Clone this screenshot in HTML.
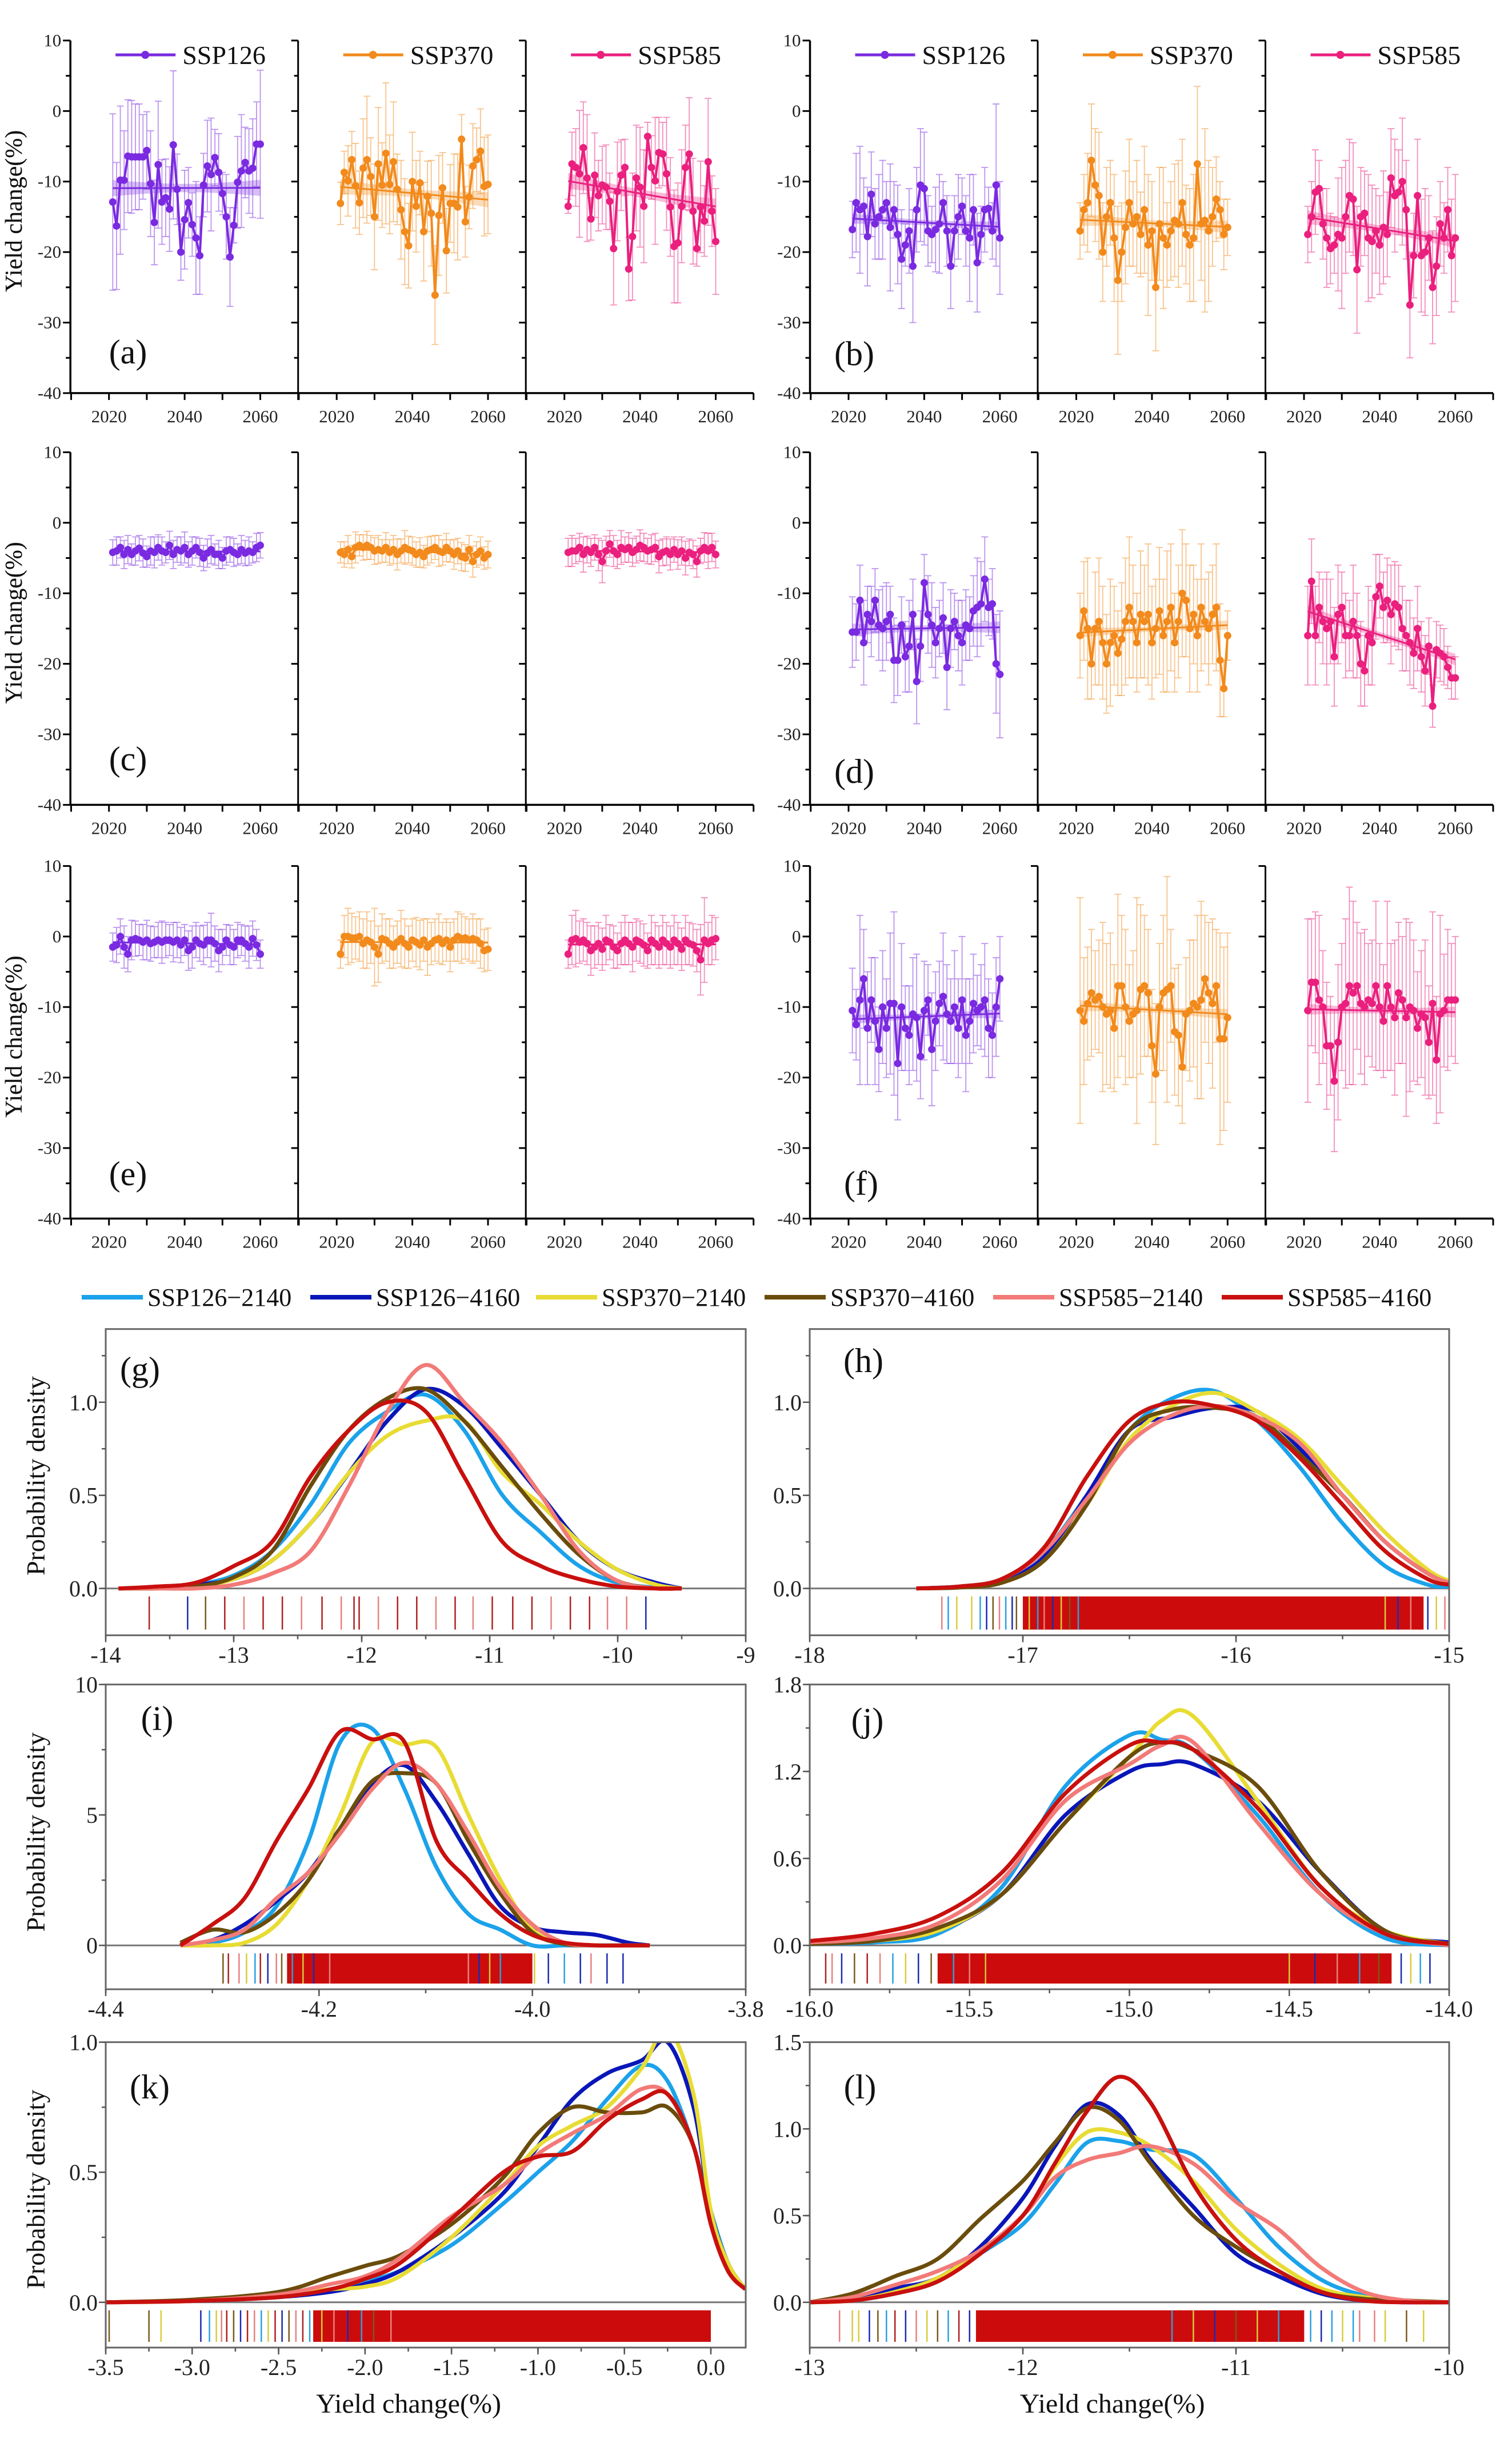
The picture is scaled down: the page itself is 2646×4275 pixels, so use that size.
<!DOCTYPE html>
<html><head><meta charset="utf-8"><title>Yield change figure</title>
<style>
html,body{margin:0;padding:0;background:#fff;}
svg{display:block;font-family:"Liberation Serif",serif;}
svg text{font-family:"Liberation Serif",serif;}
</style></head>
<body>
<svg id="chart" xmlns="http://www.w3.org/2000/svg" width="2646" height="4275" viewBox="0 0 2646 4275" font-family="Liberation Serif, serif">
<rect x="0" y="0" width="2646" height="4275" fill="#fff"/>
</svg>
<script>
// ===== Time-series data (yield change %, 2021-2060) =====
const years = [2021,2022,2023,2024,2025,2026,2027,2028,2029,2030,2031,2032,2033,2034,2035,2036,2037,2038,2039,2040,2041,2042,2043,2044,2045,2046,2047,2048,2049,2050,2051,2052,2053,2054,2055,2056,2057,2058,2059,2060];
const scenarios = ['SSP126','SSP370','SSP585'];
const yTicksTS = [10,0,-10,-20,-30,-40];
const xTicksTS = [2020,2040,2060];

const a126 = [-12.9,-16.3,-9.8,-9.8,-6.4,-6.5,-6.5,-6.5,-6.5,-5.6,-10.3,-15.8,-7.6,-12.9,-12.3,-13.9,-4.8,-11.1,-20.0,-15.4,-13.0,-16.1,-18.0,-20.5,-10.5,-7.8,-9.0,-6.6,-8.7,-11.7,-15.0,-20.7,-16.2,-10.1,-8.5,-7.3,-8.5,-8.1,-4.7,-4.7];
const a370 = [-13.1,-8.7,-9.9,-6.9,-10.6,-13.0,-8.1,-6.9,-9.3,-15.0,-7.5,-10.5,-6.0,-10.4,-7.2,-11.1,-14.0,-17.1,-19.1,-10.0,-13.5,-10.2,-17.1,-12.1,-14.5,-26.1,-14.8,-10.9,-19.8,-13.1,-13.1,-13.6,-4.0,-15.7,-12.2,-7.8,-6.9,-5.7,-10.7,-10.4];
const a585 = [-13.5,-7.5,-8.0,-8.9,-5.2,-9.5,-15.3,-9.1,-12.0,-10.5,-10.8,-12.8,-19.5,-11.4,-9.1,-8.0,-22.4,-17.8,-9.5,-10.8,-13.5,-3.6,-8.0,-9.9,-5.9,-6.1,-8.9,-13.6,-19.2,-18.7,-13.5,-8.0,-6.1,-14.2,-19.5,-13.6,-15.6,-7.2,-14.2,-18.5];
const b126 = [-16.8,-13,-14,-13.5,-17.8,-11.8,-16,-15,-14,-13,-16.5,-14,-17.5,-21,-19,-17,-22,-14,-10.5,-11,-17,-17.5,-16.8,-16,-13,-17,-22,-17,-15,-13.5,-17,-18,-14,-21.5,-17.5,-14,-13.8,-17,-10.5,-18];
const b370 = [-17,-14,-13,-7,-10.5,-12,-20,-15,-13,-18,-24,-20,-16.5,-13,-16,-15,-17.5,-14,-19,-17,-25,-16,-18,-19,-17,-15.5,-16,-13,-17.5,-19,-18,-7.5,-16,-15.5,-17,-15,-12.5,-14,-17.5,-16.5];
const b585 = [-17.5,-15,-11.5,-11,-16,-18,-19.5,-19,-17.5,-18,-15,-12,-12.5,-22.5,-15,-14.5,-18,-18.5,-17,-19,-16.5,-17.5,-9.5,-12,-11.5,-10,-14,-27.5,-20.5,-12,-20.5,-20,-18,-25,-22,-16,-18,-14,-20.5,-18];
const c126 = [-4.2,-4,-3.5,-4.5,-3.8,-4.5,-4,-3.6,-4.3,-4.8,-4,-4.2,-3.5,-4,-4.2,-3.2,-4.5,-3.8,-4,-3.5,-4.5,-4,-3.5,-4.2,-5,-4.3,-3.8,-4.5,-4.5,-5,-4,-3.8,-4.2,-4.5,-3.8,-4.3,-4,-4.2,-3.5,-3.2];
const c370 = [-4.2,-4.5,-3.8,-4.8,-3.5,-3.2,-3.5,-3.2,-3.5,-4,-3.8,-4,-3.5,-4.2,-3.8,-4.5,-4,-3.5,-3.8,-4,-4.5,-4.2,-4.8,-4,-3.8,-3.5,-4,-4.2,-3.5,-4,-4.5,-4,-4.8,-5,-3.8,-5.5,-4.5,-4,-5,-4.5];
const c585 = [-4.2,-4,-4,-3.5,-4.5,-3.8,-4.2,-3.5,-4.5,-5.5,-4,-3,-4,-4.5,-3.5,-3.8,-3.5,-4.2,-3.8,-3.2,-3.5,-4,-3.8,-3.5,-4.8,-4.2,-4,-4.5,-3.8,-4.5,-4,-5,-4.2,-4.5,-5.5,-4,-3.5,-4,-3.5,-4.5];
const d126 = [-15.5,-15.5,-11,-17,-13,-14,-11,-14.5,-15,-14,-13,-19.5,-19.5,-14.5,-19,-17.5,-13,-22.5,-17.5,-8.5,-13,-14.5,-17,-15,-13.5,-20.5,-15,-14,-16,-17,-14.5,-15,-12.5,-12,-11.5,-8,-12,-11.5,-20,-21.5];
const d370 = [-16,-12.5,-15,-20,-15,-14,-17,-20,-17,-16,-18.5,-16.5,-14,-12,-14,-17,-13,-14,-13,-17,-15,-12.5,-16,-14,-12,-17,-14,-10,-11,-15,-13,-16,-12,-14,-15,-13,-12,-19.5,-23.5,-16];
const d585 = [-16,-8.3,-16,-12,-14,-15,-14,-19,-13,-12,-16,-16,-14,-16,-20,-21,-16,-17,-10.5,-9,-12,-11,-13,-11.5,-12,-15,-16,-17,-18.5,-15,-19,-21,-17.5,-26,-18,-18.5,-19,-20.5,-22,-22];
const e126 = [-1.5,-1.2,0,-1.5,-2.5,-0.5,-0.3,-0.5,-0.8,-0.5,-1,-0.8,-0.5,-0.8,-0.5,-0.5,-0.8,-0.5,-1.2,-0.5,-2,-1.5,-0.5,-1,-1.2,-0.5,-0.5,-1,-2,-1.5,-0.5,-1.2,-1.5,-0.5,-0.5,-1,-1.5,-0.3,-1.2,-2.5];
const e370 = [-2.5,0,0,-0.2,-0.2,0,-1,-0.5,-0.8,-1.5,-2.5,-0.3,-0.5,-1,-1.5,-0.8,-0.3,-1,-1.5,-0.5,-0.8,-1.2,-0.5,-1.5,-1,-0.5,-0.3,-1,-0.5,-1.5,-0.5,0,-0.3,-0.2,-0.5,-0.3,-0.5,-1,-2,-1.8];
const e585 = [-2.5,-0.5,-0.3,-0.8,-0.5,-1,-2,-1.5,-1,-1.8,-0.5,-0.8,-1.5,-2,-1,-0.5,-1,-1.5,-0.5,-0.8,-1.2,-2,-0.5,-1,-1.5,-0.5,-1,-1.5,-0.5,-1,-1.8,-0.5,-1,-1.2,-2,-3.3,-0.5,-1,-0.5,-0.3];
const f126 = [-10.5,-12.5,-9,-6,-13,-9,-12,-16,-10,-13,-9.5,-9.5,-18,-10,-13,-14,-11,-11.5,-17,-10.5,-9,-16,-12,-9.5,-8.5,-11,-12,-10,-13,-9,-14,-12,-9.5,-10.5,-10,-9,-13,-14,-10,-6];
const f370 = [-10.5,-12,-9.5,-8,-9,-8.5,-10,-11,-10.5,-13,-7,-7,-10,-12,-11,-10.5,-7.5,-7,-8,-15.5,-19.5,-10,-8,-7.5,-7,-13.5,-14,-18.5,-11,-10.5,-9.5,-10,-9,-6,-8,-9.5,-7,-14.5,-14.5,-11.5];
const f585 = [-10.5,-6.5,-6.5,-9,-10,-15.5,-15.5,-20.5,-15,-10,-9.5,-7,-8,-7,-9.5,-10,-9,-9.5,-7,-10,-12,-7,-10,-11.5,-8,-9,-11.5,-10,-10.5,-13,-11,-11.5,-15,-9.5,-17.5,-11,-10.5,-9,-9,-9];

// error-bar half widths
const a126Err = [12.5,9,10.5,7,8,8,7.5,7.5,6,5.5,7.5,6,9,6,5.5,6,10.5,5,4,7,5,4.5,8,5.5,4.5,6.5,8,4,5.5,3,6,7,2.5,6.5,8,5,6,7,6,10.5];
const a370Err = [3,3,5,4,6,4.5,7,9,5.5,7.5,8,6,10,7,8.5,5,7,7.5,6,7,6.5,4.5,7,5,7.5,7,8.5,5,6,5.5,7,7.5,3.5,5,4.5,6,4.5,6,7,7];
const a585Err = [1,4.5,5.5,9,6.5,9,3,6,5,5.5,6,4,8,7,5,4,4.5,9,7.5,8.5,8,2,4.5,9,5,4.5,8,7,8,8.5,8,6,8,7.5,2.5,6.5,5,9,5,7.5];
const b126Err = [4,7,9,4,7,6,5,6,7,3,9,4,7,7,3,6,8,6,8,8,5,4,6,7,3,5,6,5,6,4,5,9,5,7,4,6,3,4,11.5,8];
const b370Err = [4,5,7,8,8,9,7,7,6,9,10.5,7,8,9,6,8,6,9,10,7,9,8,10,6,7,8,9,9,7,8,9,11,8,13,10,7,6,4,5,4];
const b585Err = [4,5,6,4,5,7,5,4,8,10,8,8,8,9,7,6,9,8,6,7,8,6,7,8,6,9,7,7.5,6,8,8,9,6,8,7,6,5,6,8,9];
const c126Err = [1.8,2,1.5,2,2,1.5,2,1.8,2,1.5,2,2.2,1.8,2,1.5,2,2,1.8,2,2.2,1.8,2,1.5,2,1.8,2,2,1.5,2,1.5,2,1.8,2,1.5,2,1.8,2,1.5,2,1.8];
const c370Err = [1.5,1.8,2,1.6,2.2,1.5,1.8,2,1.7,1.9,2,1.6,2.1,1.8,2,2.2,1.7,2.4,1.9,2,1.8,2.1,1.6,2,1.9,1.7,2.2,1.8,2,1.6,2.1,1.8,2,1.9,2,2.2,1.8,2,1.6,1.9];
const c585Err = [2,2.2,1.8,2,2.5,1.9,2,1.8,2.3,3,2.1,1.9,2.2,2,2.4,1.8,2.1,2,1.9,2.2,2,1.8,2.1,2,2.3,1.9,2,2.2,1.8,2.1,2,2.4,1.9,2,2.2,1.8,2.1,2.5,2,1.9];
const d126Err = [5,4,5,6,4,5,4.5,5,6,5.5,4,6,5,4,5,6.5,5,6,5,4,5.5,6,5,4,5,6,5.5,4,5,6,5,4.5,5,7,6,6,4,5,7,9];
const d370Err = [6,7,10,5,8,9,8,7,9,7,6,8,9,10,8,7,9,8,10,8,7,9,8,10,9,7,8,9,8,9,7,8,9,6,8,7,9,8,4,3.5];
const d585Err = [7,6,7,5,6,8,6,7,7,5,6,5,8,6,6,5,7,6,6,4.5,5,6,7,6,6,6,5,6,5,6,5,5,4,3,4,4,4,3,3,3];
const e126Err = [2,2.5,2.5,3,2.5,2.8,2.5,2.2,2.5,2.8,2.5,2.2,2.5,3,2.5,2.2,2.8,2.5,2.5,2.2,2.8,3,2.5,2.5,2.8,2.5,3.8,2.5,3,2.5,2.2,2.8,2.5,2.5,2.2,2.5,3,2.5,2.2,2];
const e370Err = [2,3,4,3.5,3,3.5,3.5,4,3,5.5,4,3.5,3,3.5,3,3,4,3.5,3,3,3.5,3.5,3,4,3,3,3.5,3,3,3.5,3,3.5,3.5,3,3,3.5,3,3.5,3,3];
const e585Err = [2,3.5,4,3,3,3,3.5,3,3,3,3.5,2.5,3,2.5,3,3.5,3,3.5,3,3,3,2.5,3.5,3,3,3.5,3,3,3.5,3,3,3.5,3,3,3,5,6,3,3.5,3];
const f126Err = [6,5,12,7,8,6,9,6,8,7,10,13,8,9,6,7,8,9,6,7,5,8,7,6,9,7,6,8,7,9,8,6,7,5,6,8,7,6,7,6];
const f370Err = [16,9,8,9,7,8,12,10,11,9,13,10,11,8,9,16,12,10,9,8,10,9,11,16,8,9,10,8,8,10,9,13,14,9,10,12,8,15,13,12];
const f585Err = [13,9,10,12,8,9,7,10,11,9,12,14,13,9,10,11,8,9,12,9,8,12,9,11,10,9,14,12,10,8,9,11,8,13,9,14,8,10,8,9];

// ===== Density data =====
const densSeries = ['SSP126\u22122140','SSP126\u22124160','SSP370\u22122140','SSP370\u22124160','SSP585\u22122140','SSP585\u22124160'];
const gX = [-13.9,-13.6,-13.3,-13.0,-12.7,-12.4,-12.1,-11.8,-11.5,-11.2,-10.9,-10.6,-10.3,-10.0,-9.7,-9.5];
const g1 = [0,0.005,0.02,0.07,0.2,0.45,0.78,0.95,1.04,0.85,0.5,0.3,0.12,0.03,0.005,0];
const g2 = [0,0.005,0.02,0.05,0.15,0.35,0.62,0.9,1.07,0.98,0.75,0.5,0.25,0.1,0.03,0];
const g3 = [0,0,0.01,0.05,0.15,0.35,0.62,0.82,0.9,0.9,0.62,0.45,0.25,0.1,0.02,0];
const g4 = [0,0,0.01,0.06,0.2,0.55,0.85,1.02,1.07,0.9,0.65,0.4,0.18,0.04,0,0];
const g5 = [0,0,0,0.02,0.08,0.2,0.55,0.95,1.2,1.0,0.78,0.5,0.2,0.04,0,0];
const g6 = [0,0.01,0.03,0.12,0.25,0.6,0.85,1.0,0.95,0.6,0.25,0.12,0.05,0.01,0,0];
const hX = [-17.5,-17.3,-17.1,-16.9,-16.7,-16.5,-16.3,-16.1,-15.9,-15.7,-15.5,-15.3,-15.1,-15.0];
const h1 = [0,0.01,0.05,0.2,0.5,0.85,1.02,1.06,0.9,0.65,0.35,0.12,0.02,0.01];
const h2 = [0,0.01,0.04,0.17,0.5,0.85,0.92,0.97,0.95,0.75,0.5,0.25,0.08,0.04];
const h3 = [0,0.005,0.03,0.15,0.45,0.8,0.98,1.05,0.95,0.8,0.55,0.3,0.1,0.04];
const h4 = [0,0.005,0.03,0.15,0.45,0.85,0.96,0.97,0.92,0.72,0.5,0.25,0.08,0.03];
const h5 = [0,0.01,0.05,0.2,0.48,0.78,0.93,0.98,0.92,0.78,0.5,0.25,0.08,0.03];
const h6 = [0,0.01,0.05,0.22,0.6,0.9,1.0,0.98,0.9,0.7,0.45,0.2,0.05,0.02];
const iX = [-4.33,-4.30,-4.27,-4.24,-4.21,-4.18,-4.15,-4.12,-4.09,-4.06,-4.03,-4.00,-3.97,-3.94,-3.91,-3.89];
const i1 = [0,0.1,0.5,1.5,4.0,7.8,8.3,6.0,3.0,1.2,0.6,0,0,0,0,0];
const i2 = [0,0.2,0.8,1.7,2.8,4.5,6.2,6.9,5.5,3.5,1.5,0.7,0.5,0.4,0.1,0];
const i3 = [0,0,0.1,0.8,2.5,5,7.8,7.7,7.6,5,2.5,0.6,0.1,0,0,0];
const i4 = [0.1,0.6,0.5,1.2,2.5,4.5,6.3,6.6,6.2,4,2.0,0.5,0.05,0,0,0];
const i5 = [0,0.2,0.6,1.8,2.8,4.3,6.0,7.0,6.2,4.3,2.2,0.8,0.1,0,0,0];
const i6 = [0,0.8,1.8,4.0,6.0,8.2,7.9,7.8,4.0,2.5,1.2,0.4,0.1,0,0,0];
const jX = [-16,-15.8,-15.6,-15.4,-15.2,-15.0,-14.9,-14.8,-14.6,-14.4,-14.2,-14.0];
const j1 = [0.01,0.02,0.08,0.4,1.1,1.45,1.42,1.35,0.9,0.35,0.05,0];
const j2 = [0.01,0.03,0.1,0.35,0.9,1.2,1.25,1.25,1.0,0.5,0.1,0.02];
const j3 = [0.01,0.03,0.1,0.35,0.85,1.3,1.55,1.58,1.0,0.4,0.1,0.01];
const j4 = [0.01,0.03,0.12,0.35,0.85,1.3,1.4,1.35,1.1,0.5,0.1,0.01];
const j5 = [0.02,0.05,0.15,0.45,1.0,1.25,1.38,1.4,0.85,0.35,0.08,0];
const j6 = [0.03,0.08,0.2,0.5,1.05,1.38,1.4,1.35,0.95,0.4,0.08,0.01];
const kX = [-3.5,-3.0,-2.5,-2.2,-2.0,-1.8,-1.5,-1.2,-1.0,-0.8,-0.6,-0.4,-0.25,-0.1,0.0,0.1,0.2];
const k1 = [0,0.005,0.02,0.05,0.08,0.12,0.22,0.38,0.5,0.62,0.78,0.91,0.85,0.6,0.35,0.15,0.05];
const k2 = [0,0.005,0.02,0.04,0.07,0.12,0.25,0.42,0.6,0.78,0.88,0.93,1.0,0.75,0.35,0.15,0.05];
const k3 = [0,0.005,0.03,0.05,0.06,0.1,0.25,0.45,0.6,0.68,0.75,0.9,1.05,0.8,0.35,0.15,0.05];
const k4 = [0,0.01,0.04,0.1,0.14,0.18,0.3,0.48,0.65,0.75,0.73,0.73,0.75,0.6,0.3,0.12,0.05];
const k5 = [0,0.005,0.03,0.07,0.1,0.17,0.33,0.45,0.57,0.65,0.72,0.82,0.8,0.6,0.3,0.12,0.05];
const k6 = [0,0.005,0.02,0.05,0.09,0.15,0.32,0.5,0.56,0.58,0.7,0.78,0.8,0.6,0.3,0.12,0.05];
const lX = [-13,-12.8,-12.6,-12.4,-12.2,-12.0,-11.85,-11.7,-11.55,-11.4,-11.2,-11.0,-10.8,-10.6,-10.4,-10.2,-10.0];
const l1 = [0,0.01,0.05,0.12,0.28,0.45,0.68,0.92,0.93,0.88,0.85,0.6,0.32,0.13,0.04,0.01,0];
const l2 = [0,0.02,0.08,0.14,0.32,0.6,0.9,1.14,1.08,0.82,0.55,0.28,0.15,0.05,0.01,0,0];
const l3 = [0,0.01,0.06,0.14,0.3,0.5,0.78,0.98,0.98,0.9,0.7,0.42,0.22,0.08,0.03,0.01,0];
const l4 = [0,0.05,0.15,0.25,0.48,0.7,0.92,1.12,1.05,0.8,0.5,0.32,0.18,0.06,0.02,0.01,0];
const l5 = [0,0.03,0.1,0.18,0.3,0.5,0.72,0.82,0.86,0.9,0.8,0.58,0.42,0.2,0.06,0.01,0];
const l6 = [0,0.01,0.05,0.12,0.28,0.5,0.8,1.1,1.3,1.15,0.68,0.36,0.18,0.06,0.01,0,0];

// rug data: tick values, series index per tick, and dense range
const gRug = [-13.66,-13.36,-13.22,-13.07,-12.92,-12.77,-12.62,-12.47,-12.31,-12.16,-12.06,-12.02,-11.87,-11.72,-11.57,-11.42,-11.27,-11.13,-10.98,-10.82,-10.67,-10.52,-10.37,-10.22,-10.08,-9.93,-9.78];
const gRugS = [5,1,3,5,4,5,5,4,5,4,5,5,4,5,5,4,5,4,5,5,5,4,5,5,4,4,1];
const hRug = [-17.38,-17.35,-17.31,-17.24,-17.2,-17.17,-17.14,-17.11,-17.08,-17.05,-17.03,-16.97,-16.93,-16.9,-16.86,-16.82,-16.78,-16.74,-15.3,-15.24,-15.18,-15.1,-15.06,-15.02];
const hRugS = [4,0,2,2,0,1,3,4,0,1,3,2,0,4,1,2,3,0,2,1,4,1,2,4];
const hDense = [-17.0,-15.12];
const iRug = [-4.29,-4.285,-4.275,-4.268,-4.26,-4.255,-4.248,-4.24,-4.235,-4.225,-4.215,-4.205,-4.19,-4.06,-4.05,-4.04,-4.03,-3.998,-3.985,-3.97,-3.955,-3.945,-3.93,-3.915];
const iRugS = [3,5,4,2,0,5,1,4,3,0,2,1,4,4,1,2,0,2,1,0,1,4,1,1];
const iDense = [-4.23,-4.0];
const jRug = [-15.95,-15.93,-15.9,-15.86,-15.82,-15.78,-15.74,-15.7,-15.66,-15.62,-15.55,-15.5,-15.45,-14.5,-14.42,-14.35,-14.28,-14.22,-14.15,-14.12,-14.09,-14.06];
const jRugS = [5,4,1,3,5,4,0,2,1,3,0,4,2,2,1,4,0,3,1,2,0,1];
const jDense = [-15.6,-14.18];
const kRug = [-3.48,-3.25,-3.18,-2.95,-2.9,-2.86,-2.83,-2.8,-2.76,-2.72,-2.68,-2.64,-2.6,-2.56,-2.52,-2.48,-2.44,-2.4,-2.36,-2.32,-2.25,-2.18,-2.1,-2.02,-1.95,-1.85];
const kRugS = [3,3,2,1,0,2,4,5,3,1,5,4,0,2,5,1,3,4,5,0,2,4,1,0,3,4];
const kDense = [-2.3,0.0];
const lRug = [-12.86,-12.8,-12.77,-12.72,-12.68,-12.64,-12.6,-12.55,-12.5,-12.45,-12.4,-12.35,-12.3,-12.25,-11.3,-11.2,-11.1,-11.0,-10.9,-10.8,-10.65,-10.6,-10.55,-10.5,-10.45,-10.42,-10.35,-10.3,-10.2,-10.12];
const lRugS = [4,2,2,1,3,0,5,1,4,2,3,0,5,1,0,2,1,3,2,0,0,1,0,2,0,4,4,2,3,2];
const lDense = [-12.22,-10.68];

// ===== Drawing helpers =====
const NS = 'http://www.w3.org/2000/svg';
const svg = document.getElementById('chart');
const FONT = '"Liberation Serif", serif';
function mk(tag, attrs, parent){
  const e = document.createElementNS(NS, tag);
  for (const k in attrs) e.setAttribute(k, attrs[k]);
  (parent || svg).appendChild(e);
  return e;
}
function txt(s, attrs, parent){
  const e = mk('text', attrs, parent);
  e.setAttribute('font-family', FONT);
  e.textContent = s;
  return e;
}
function smoothPath(pts){
  let d = 'M' + pts[0][0].toFixed(1) + ',' + pts[0][1].toFixed(1);
  for (let i = 0; i < pts.length - 1; i++){
    const p0 = pts[Math.max(i-1,0)], p1 = pts[i], p2 = pts[i+1], p3 = pts[Math.min(i+2, pts.length-1)];
    const c1x = p1[0] + (p2[0]-p0[0])/6, c1y = p1[1] + (p2[1]-p0[1])/6;
    const c2x = p2[0] - (p3[0]-p1[0])/6, c2y = p2[1] - (p3[1]-p1[1])/6;
    d += ' C' + c1x.toFixed(1) + ',' + c1y.toFixed(1) + ' ' + c2x.toFixed(1) + ',' + c2y.toFixed(1) + ' ' + p2[0].toFixed(1) + ',' + p2[1].toFixed(1);
  }
  return d;
}

// ===== Time-series panels =====
const tsColors = ['#7a2ae0','#f28a1c','#ea1f7e'];
const tsGroupsX = [123.2, 1417.5];
const tsRowsTop = [70.9, 791.4, 1515.4];
const subW = 398.5;
const unit10 = 123.4;
const panelData = [
  {lab:'(a)', g:0, r:0, s:[a126,a370,a585], e:[a126Err,a370Err,a585Err], lx:224, ly:616, legend:true},
  {lab:'(b)', g:1, r:0, s:[b126,b370,b585], e:[b126Err,b370Err,b585Err], lx:1495, ly:619, legend:true},
  {lab:'(c)', g:0, r:1, s:[c126,c370,c585], e:[c126Err,c370Err,c585Err], lx:224, ly:1328, legend:false},
  {lab:'(d)', g:1, r:1, s:[d126,d370,d585], e:[d126Err,d370Err,d585Err], lx:1495, ly:1350, legend:false},
  {lab:'(e)', g:0, r:2, s:[e126,e370,e585], e:[e126Err,e370Err,e585Err], lx:224, ly:2054, legend:false},
  {lab:'(f)', g:1, r:2, s:[f126,f370,f585], e:[f126Err,f370Err,f585Err], lx:1507, ly:2071, legend:false}
];

panelData.forEach(function(P){
  const x0 = tsGroupsX[P.g], top = tsRowsTop[P.r];
  const yOf = function(v){ return top + (10 - v) * unit10 / 10; };
  const bottom = yOf(-40);
  const grp = mk('g', {});
  
  
  const la = mk('line', {x1:x0, y1:top, x2:x0, y2:bottom, stroke:'#000', 'stroke-width':3.5}, grp);
  
  
  for (let v = 10; v >= -40; v -= 5){
    const major = (v % 10 === 0);
    mk('line', {x1:x0 - (major?13:8), y1:yOf(v), x2:x0, y2:yOf(v), stroke:'#000', 'stroke-width':3}, grp);
  }
  yTicksTS.forEach(function(v){
    const t = txt(String(v), {x:x0 - 16, y:yOf(v) + 10, 'text-anchor':'end', 'font-size':31, fill:'#222'}, grp);
    
    
  });
  const ba = mk('line', {x1:x0, y1:bottom, x2:x0 + 3*subW, y2:bottom, stroke:'#000', 'stroke-width':3.5}, grp);
  
  
  const midY = (top + bottom) / 2;
  const yt = txt('Yield change(%)', {x:0, y:0, transform:'translate(38,' + (midY - 10) + ') rotate(-90)', 'text-anchor':'middle', 'font-size':42, fill:'#111'}, grp);
  
  

  for (let si = 0; si < 3; si++){
    const sx = x0 + si*subW;
    const xOf = function(yr){ return sx + 67.5 + (yr - 2020) * 6.62; };
    if (si > 0){
      const dv = mk('line', {x1:sx, y1:top, x2:sx, y2:bottom, stroke:'#000', 'stroke-width':3}, grp);
      
      
      for (let v = 10; v >= -40; v -= 5){
        const major = (v % 10 === 0);
        mk('line', {x1:sx - (major?12:7), y1:yOf(v), x2:sx, y2:yOf(v), stroke:'#000', 'stroke-width':3}, grp);
      }
    }
    for (let yr = 2010; yr <= 2070; yr += 10){
      mk('line', {x1:xOf(yr), y1:bottom, x2:xOf(yr), y2:bottom + 12, stroke:'#000', 'stroke-width':3}, grp);
    }
    xTicksTS.forEach(function(yr){
      const t = txt(String(yr), {x:xOf(yr), y:bottom + 51, 'text-anchor':'middle', 'font-size':31, fill:'#222'}, grp);
      
      
    });
    const vals = P.s[si], errs = P.e[si], col = tsColors[si];
    const sg = mk('g', {}, grp);
    
    
    const n = years.length;
    let mx = 0, my = 0;
    for (let i = 0; i < n; i++){ mx += years[i]; my += vals[i]; }
    mx /= n; my /= n;
    let sxx = 0, sxy = 0;
    for (let i = 0; i < n; i++){ sxx += (years[i]-mx)*(years[i]-mx); sxy += (years[i]-mx)*(vals[i]-my); }
    const slope = sxy / sxx, icpt = my - slope*mx;
    let sse = 0;
    for (let i = 0; i < n; i++){ const r = vals[i] - (icpt + slope*years[i]); sse += r*r; }
    const sres = Math.sqrt(sse / (n - 2));
    const up = [], lo = [];
    for (let i = 0; i < n; i++){
      const yh = icpt + slope*years[i];
      const ci = 0.8 * sres * Math.sqrt(1/n + (years[i]-mx)*(years[i]-mx)/sxx);
      up.push(xOf(years[i]).toFixed(1) + ',' + yOf(yh + ci).toFixed(1));
      lo.unshift(xOf(years[i]).toFixed(1) + ',' + yOf(yh - ci).toFixed(1));
    }
    const band = mk('polygon', {points: up.concat(lo).join(' '), fill:col, 'fill-opacity':0.3}, sg);
    
    
    for (let i = 0; i < n; i++){
      const x = xOf(years[i]);
      const eb = mk('path', {d:'M' + x + ',' + yOf(vals[i]+errs[i]) + 'V' + yOf(vals[i]-errs[i]) + 'M' + (x-6) + ',' + yOf(vals[i]+errs[i]) + 'h12M' + (x-6) + ',' + yOf(vals[i]-errs[i]) + 'h12', stroke:col, 'stroke-opacity':0.5, 'stroke-width':1.8, fill:'none'}, sg);
      
      
    }
    const tl = mk('line', {x1:xOf(years[0]), y1:yOf(icpt + slope*years[0]), x2:xOf(years[n-1]), y2:yOf(icpt + slope*years[n-1]), stroke:col, 'stroke-width':3}, sg);
    
    
    const pts = vals.map(function(v, i){ return xOf(years[i]).toFixed(1) + ',' + yOf(v).toFixed(1); });
    const pl = mk('polyline', {points: pts.join(' '), fill:'none', stroke:col, 'stroke-width':4}, sg);
    
    
    for (let i = 0; i < n; i++){
      const c = mk('circle', {cx:xOf(years[i]), cy:yOf(vals[i]), r:6.5, fill:col}, sg);
      
      
    }
    if (P.legend){
      const lg = mk('g', {}, grp);
      
      
      mk('line', {x1:sx + 79, y1:96, x2:sx + 184, y2:96, stroke:col, 'stroke-width':5}, lg);
      mk('circle', {cx:sx + 131, cy:96, r:7, fill:col}, lg);
      txt(scenarios[si], {x:sx + 196, y:112, 'font-size':46, fill:'#111'}, lg);
    }
  }
  const pl = txt(P.lab, {x:P.lx, y:P.ly + 20, 'text-anchor':'middle', 'font-size':60, fill:'#111'}, grp);
  
  
});

// ===== Bottom legend =====
const densColors = ['#1ba2ea','#0a16b8','#e8dc34','#6a4c0c','#f27a78','#c8100e'];
const legX = [143, 543, 938, 1338, 1738, 2138];
densSeries.forEach(function(name, i){
  const lg = mk('g', {});
  
  
  mk('line', {x1:legX[i], y1:2270, x2:legX[i] + 107, y2:2270, stroke:densColors[i], 'stroke-width':8}, lg);
  txt(name, {x:legX[i] + 115, y:2285, 'font-size':44, fill:'#111'}, lg);
});

// ===== Density panels =====
const densPanels = [
  {lab:'(g)', L:185, R:1305, T:2325.7, B:2861.6, Z:2779.6, xmin:-14, xmax:-9, ymaxAtTop:1.393, X:gX, Y:[g1,g2,g3,g4,g5,g6], yt:[0,0.5,1.0], ytl:['0.0','0.5','1.0'], ym:0.25, xt:[-14,-13,-12,-11,-10,-9], xtl:['-14','-13','-12','-11','-10','-9'], xm:0.5, rug:gRug, rugS:gRugS, dense:null, lx:245, ly:2396, title:false},
  {lab:'(h)', L:1417, R:2536, T:2325.7, B:2861.6, Z:2779.6, xmin:-18, xmax:-15, ymaxAtTop:1.393, X:hX, Y:[h1,h2,h3,h4,h5,h6], yt:[0,0.5,1.0], ytl:['0.0','0.5','1.0'], ym:0.25, xt:[-18,-17,-16,-15], xtl:['-18','-17','-16','-15'], xm:0.5, rug:hRug, rugS:hRugS, dense:hDense, lx:1511, ly:2381, title:false},
  {lab:'(i)', L:185, R:1305, T:2947.7, B:3481, Z:3404.2, xmin:-4.4, xmax:-3.8, ymaxAtTop:10, X:iX, Y:[i1,i2,i3,i4,i5,i6], yt:[0,5,10], ytl:['0','5','10'], ym:2.5, xt:[-4.4,-4.2,-4.0,-3.8], xtl:['-4.4','-4.2','-4.0','-3.8'], xm:0.1, rug:iRug, rugS:iRugS, dense:iDense, lx:275, ly:3007, title:false},
  {lab:'(j)', L:1417, R:2536, T:2947.7, B:3481, Z:3404.2, xmin:-16, xmax:-14, ymaxAtTop:1.8, X:jX, Y:[j1,j2,j3,j4,j5,j6], yt:[0,0.6,1.2,1.8], ytl:['0.0','0.6','1.2','1.8'], ym:0.3, xt:[-16,-15.5,-15,-14.5,-14], xtl:['-16.0','-15.5','-15.0','-14.5','-14.0'], xm:0.25, rug:jRug, rugS:jRugS, dense:jDense, lx:1518, ly:3010, title:false},
  {lab:'(k)', L:185, R:1305, T:3573.6, B:4108, Z:4028.8, xmin:-3.5, xmax:0.2017, ymaxAtTop:1.0, X:kX, Y:[k1,k2,k3,k4,k5,k6], yt:[0,0.5,1.0], ytl:['0.0','0.5','1.0'], ym:0.25, xt:[-3.5,-3,-2.5,-2,-1.5,-1,-0.5,0], xtl:['-3.5','-3.0','-2.5','-2.0','-1.5','-1.0','-0.5','0.0'], xm:0.25, rug:kRug, rugS:kRugS, dense:kDense, lx:262, ly:3652, title:true},
  {lab:'(l)', L:1417, R:2536, T:3573.6, B:4108, Z:4028.8, xmin:-13, xmax:-10, ymaxAtTop:1.5, X:lX, Y:[l1,l2,l3,l4,l5,l6], yt:[0,0.5,1.0,1.5], ytl:['0.0','0.5','1.0','1.5'], ym:0.25, xt:[-13,-12,-11,-10], xtl:['-13','-12','-11','-10'], xm:0.5, rug:lRug, rugS:lRugS, dense:lDense, lx:1505, ly:3652, title:true}
];
const rugColors = ['#2aa0e0','#1a2ab0','#d8cc3a','#7a5a1a','#e88080','#b02020'];

densPanels.forEach(function(P){
  const grp = mk('g', {});
  
  
  const xOf = function(v){ return P.L + (v - P.xmin) / (P.xmax - P.xmin) * (P.R - P.L); };
  const yOf = function(v){ return P.Z - v / P.ymaxAtTop * (P.Z - P.T); };
  const cp = 'clip' + P.lab.replace(/[()]/g,'');
  const cpe = mk('clipPath', {id:cp}, grp);
  mk('rect', {x:P.L, y:P.T, width:P.R - P.L, height:P.B - P.T}, cpe);
  const rg = mk('g', {'clip-path':'url(#' + cp + ')'}, grp);
  
  
  const rTop = P.Z + 14, rBot = P.B - 10;
  if (P.dense){
    const dr = mk('rect', {x:xOf(P.dense[0]), y:rTop, width:xOf(P.dense[1]) - xOf(P.dense[0]), height:rBot - rTop, fill:'#cc0c0c'}, rg);
    
    
  }
  P.rug.forEach(function(v, i){
    mk('line', {x1:xOf(v), y1:rTop, x2:xOf(v), y2:rBot, stroke:rugColors[P.rugS[i]], 'stroke-width':2.5}, rg);
  });
  const zl = mk('line', {x1:P.L, y1:P.Z, x2:P.R, y2:P.Z, stroke:'#777', 'stroke-width':3}, grp);
  
  
  const cg = mk('g', {'clip-path':'url(#' + cp + ')'}, grp);
  P.Y.forEach(function(ys, si){
    const pts = ys.map(function(v, i){ return [xOf(P.X[i]), yOf(v)]; });
    const c = mk('path', {d:smoothPath(pts), fill:'none', stroke:densColors[si], 'stroke-width':7, 'stroke-linejoin':'round'}, cg);
    
    
  });
  const fr = mk('rect', {x:P.L, y:P.T, width:P.R - P.L, height:P.B - P.T, fill:'none', stroke:'#666', 'stroke-width':3}, grp);
  
  
  for (let v = 0; v <= P.ymaxAtTop + 1e-6; v += P.ym){
    mk('line', {x1:P.L - 7, y1:yOf(v), x2:P.L, y2:yOf(v), stroke:'#555', 'stroke-width':2.5}, grp);
  }
  P.yt.forEach(function(v, i){
    mk('line', {x1:P.L - 12, y1:yOf(v), x2:P.L, y2:yOf(v), stroke:'#555', 'stroke-width':2.5}, grp);
    const t = txt(P.ytl[i], {x:P.L - 14, y:yOf(v) + 14, 'text-anchor':'end', 'font-size':40, fill:'#222'}, grp);
    
    
  });
  for (let v = P.xt[0]; v <= P.xmax + 1e-6; v += P.xm){
    mk('line', {x1:xOf(v), y1:P.B, x2:xOf(v), y2:P.B + 7, stroke:'#555', 'stroke-width':2.5}, grp);
  }
  P.xt.forEach(function(v, i){
    mk('line', {x1:xOf(v), y1:P.B, x2:xOf(v), y2:P.B + 12, stroke:'#555', 'stroke-width':2.5}, grp);
    const t = txt(P.xtl[i], {x:xOf(v), y:P.B + 48, 'text-anchor':'middle', 'font-size':40, fill:'#222'}, grp);
    
    
  });
  if (P.L < 300){
    const yt = txt('Probability density', {x:0, y:0, transform:'translate(78,' + ((P.T + P.Z)/2 + 30) + ') rotate(-90)', 'text-anchor':'middle', 'font-size':46, fill:'#111'}, grp);
    
    
  }
  if (P.title){
    const xt = txt('Yield change(%)', {x:(P.L + P.R)/2 - 30, y:4222, 'text-anchor':'middle', 'font-size':48, fill:'#111'}, grp);
    
    
  }
  const pl = txt(P.lab, {x:P.lx, y:P.ly + 20, 'text-anchor':'middle', 'font-size':60, fill:'#111'}, grp);
  
  
});
</script>
</body></html>
